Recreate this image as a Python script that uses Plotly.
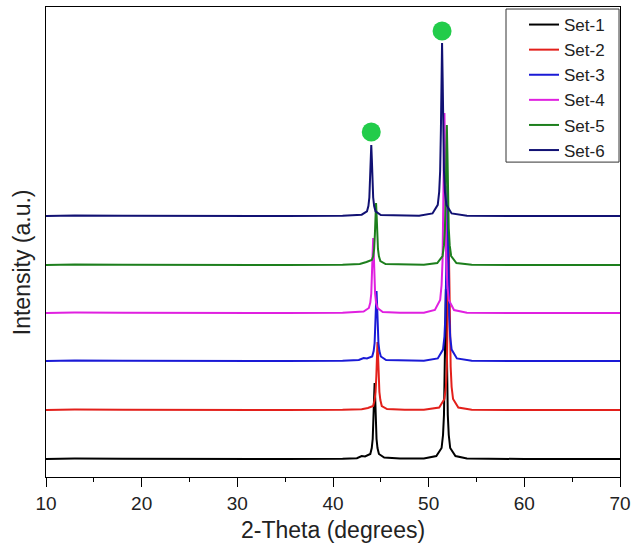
import plotly.graph_objects as go

names = ["Set-1", "Set-2", "Set-3", "Set-4", "Set-5", "Set-6"]
colors = ["#000000", "#e3201b", "#1a1ad6", "#e020e0", "#1d7f1d", "#111173"]

x_set1 = [10, 13, 18, 25, 35, 41, 42.5, 43.0, 43.35, 43.9, 44.05, 44.15, 44.23, 44.29, 44.35, 44.41, 44.47, 44.55, 44.65, 44.8, 45.35, 47, 49.5, 50.8, 51.35, 51.5, 51.6, 51.68, 51.74, 51.8, 51.86, 51.92, 52.0, 52.1, 52.25, 52.8, 54, 60, 70]
y_set1 = [18, 18.5, 18.3, 18, 18, 18.3, 18.8, 21, 20.5, 23, 29, 38, 56, 79, 94, 79, 56, 38, 29, 23, 19.5, 18.5, 18.5, 21, 29, 42, 62, 103, 154, 188, 154, 103, 62, 42, 29, 21, 18.5, 18, 18]

x_set2 = [10, 13, 18, 25, 35, 41, 43.0, 43.65, 44.2, 44.35, 44.45, 44.53, 44.59, 44.65, 44.71, 44.77, 44.85, 44.95, 45.1, 45.65, 47.5, 49.5, 51.1, 51.65, 51.8, 51.9, 51.98, 52.04, 52.1, 52.16, 52.22, 52.3, 52.4, 52.55, 53.1, 54.5, 60, 70]
y_set2 = [67, 67.5, 67.3, 67, 67, 67.2, 67.8, 69, 71, 77, 85, 101, 121, 135, 121, 101, 85, 77, 71, 68, 67.3, 67.3, 69.5, 78, 90, 110, 150, 199, 232, 199, 150, 110, 90, 78, 69.5, 67.3, 67, 67]

x_set3 = [10, 13, 18, 25, 35, 41, 42.7, 43.2, 43.55, 44.1, 44.25, 44.35, 44.43, 44.49, 44.55, 44.61, 44.67, 44.75, 44.85, 45.0, 45.55, 47.5, 49.5, 50.95, 51.5, 51.65, 51.75, 51.83, 51.89, 51.95, 52.01, 52.07, 52.15, 52.25, 52.4, 52.95, 54.5, 60, 70]
y_set3 = [116, 116.6, 116.3, 116, 116, 116.3, 117, 119, 118.5, 120.5, 126, 134, 151, 172, 186, 172, 151, 134, 126, 120.5, 117, 116.3, 116.3, 118.6, 127.4, 140.5, 161.5, 203.5, 256, 291, 256, 203.5, 161.5, 140.5, 127.4, 118.6, 116.3, 116, 116]

x_set4 = [10, 13, 18, 25, 35, 41, 42.5, 43.2, 43.75, 43.9, 44.0, 44.08, 44.14, 44.2, 44.26, 44.32, 44.4, 44.5, 44.65, 45.2, 47, 49.5, 50.65, 51.2, 51.35, 51.45, 51.53, 51.59, 51.65, 51.71, 51.77, 51.85, 51.95, 52.1, 52.65, 54, 60, 70]
y_set4 = [164, 164.5, 164.3, 164, 164, 164.2, 164.6, 165.5, 169, 174.5, 183.5, 201.5, 224, 239, 224, 201.5, 183.5, 174.5, 169, 165, 164.3, 164.3, 167, 177, 192, 216, 264, 324, 364, 324, 264, 216, 192, 177, 167, 164.3, 164, 164]

x_set5 = [10, 13, 18, 25, 35, 41, 42.8, 43.5, 44.05, 44.2, 44.3, 44.38, 44.44, 44.5, 44.56, 44.62, 44.7, 44.8, 44.95, 45.5, 47.5, 49.5, 50.9, 51.45, 51.6, 51.7, 51.78, 51.84, 51.9, 51.96, 52.02, 52.1, 52.2, 52.35, 52.9, 54.5, 60, 70]
y_set5 = [212, 212.6, 212.3, 212, 212, 212.3, 213, 215, 217, 220.7, 228, 243, 261.6, 274, 261.6, 243, 228, 220.7, 216, 213, 212.3, 212.3, 214, 221, 231.6, 248.4, 282, 324, 352, 324, 282, 248.4, 231.6, 221, 214, 212.3, 212, 212]

x_set6 = [10, 13, 18, 25, 35, 41, 42.3, 43.0, 43.55, 43.7, 43.8, 43.88, 43.94, 44.0, 44.06, 44.12, 44.2, 44.3, 44.45, 45.0, 47, 49, 50.4, 50.95, 51.1, 51.2, 51.28, 51.34, 51.4, 51.46, 51.52, 51.6, 51.7, 51.85, 52.4, 54, 60, 70]
y_set6 = [261, 261.6, 261.3, 261, 261, 261.2, 261.6, 262.3, 265.6, 271, 279.5, 296.5, 318, 332, 318, 296.5, 279.5, 271, 265.6, 262, 261.3, 261.3, 263.6, 272.2, 285.2, 306, 347.5, 399.4, 434, 399.4, 347.5, 306, 285.2, 272.2, 263.6, 261.3, 261, 261]

marker_x = [44.0, 51.4]
marker_y = [345, 446]

x_ticks = [10, 20, 30, 40, 50, 60, 70]

xs = [x_set1, x_set2, x_set3, x_set4, x_set5, x_set6]
ys = [y_set1, y_set2, y_set3, y_set4, y_set5, y_set6]

FONT = "Arial, 'Liberation Sans', sans-serif"
TXT = "#222222"

fig = go.Figure()
for name, color, x, y in zip(names, colors, xs, ys):
    fig.add_trace(go.Scatter(x=x, y=y, mode="lines", name=name,
                             line=dict(color=color, width=2)))

fig.add_trace(go.Scatter(x=marker_x, y=marker_y, mode="markers", showlegend=False,
                         marker=dict(color="#22cc4a", size=19)))

fig.update_layout(
    width=632, height=547,
    margin=dict(l=46, r=12, t=7, b=70),
    paper_bgcolor="white", plot_bgcolor="white",
    font=dict(family=FONT, color=TXT),
    showlegend=True,
    legend=dict(x=0.8328, y=1.0, xanchor="left", yanchor="top",
                bgcolor="rgba(0,0,0,0)", borderwidth=0,
                font=dict(size=17, family=FONT, color=TXT),
                tracegroupgap=0),
    xaxis=dict(range=[10, 70], tickvals=x_ticks, ticks="outside", ticklen=9,
               tickwidth=1, tickcolor="black", showline=True, linecolor="black",
               linewidth=1, mirror=True, showgrid=False, zeroline=False,
               automargin=False,
               tickfont=dict(size=19, family=FONT, color=TXT),
               minor=dict(dtick=5, tick0=10, ticks="outside", ticklen=4,
                          tickcolor="black", showgrid=False)),
    yaxis=dict(range=[0, 470], showticklabels=False, ticks="", showline=True,
               linecolor="black", linewidth=1, mirror=True, showgrid=False,
               zeroline=False, automargin=False),
    shapes=[
        dict(type="rect", xref="paper", yref="paper", x0=0.8014, x1=0.9983,
             y0=0.670, y1=0.9957, fillcolor="white",
             line=dict(color="#333333", width=1), layer="above"),
    ],
    annotations=[
        dict(text="2-Theta (degrees)", xref="paper", yref="paper", x=0.5, y=-0.1128,
             xanchor="center", yanchor="middle", showarrow=False,
             font=dict(size=23, family=FONT, color=TXT)),
        dict(text="Intensity (a.u.)", xref="paper", yref="paper", x=-0.0418, y=0.457,
             xanchor="center", yanchor="middle", showarrow=False, textangle=-90,
             font=dict(size=23, family=FONT, color=TXT)),
    ],
)

fig.write_html("out.html")
